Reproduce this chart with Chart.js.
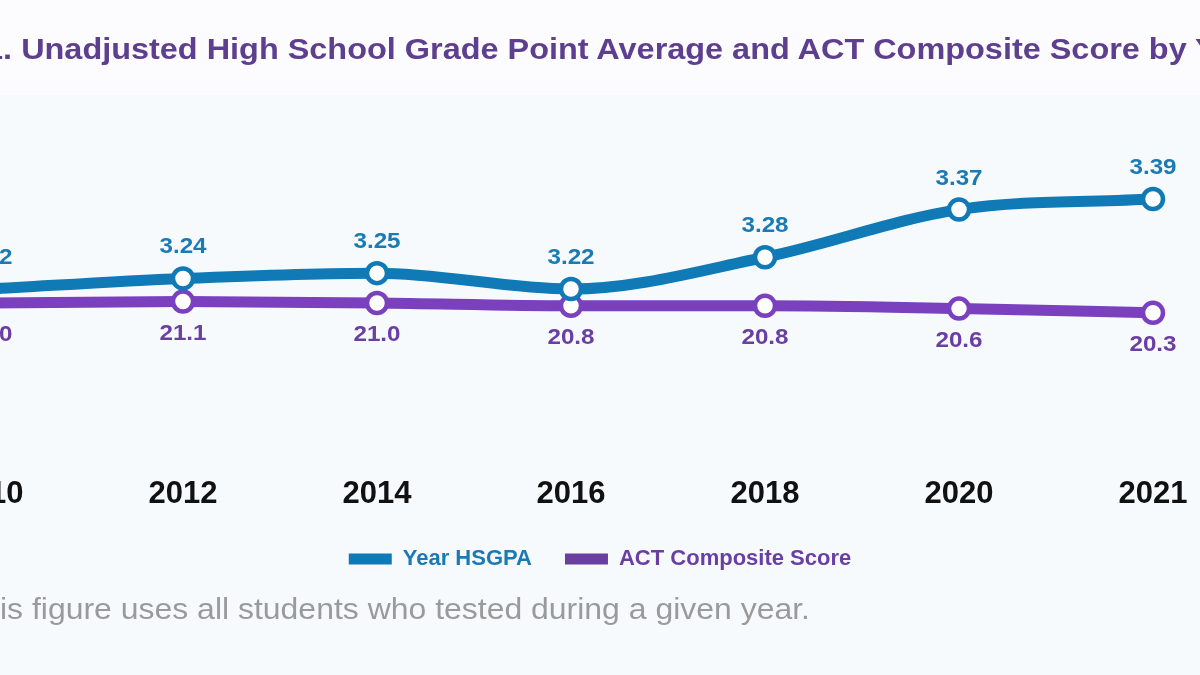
<!DOCTYPE html>
<html>
<head>
<meta charset="utf-8">
<script src="https://cdn.jsdelivr.net/npm/chart.js@4/dist/chart.umd.min.js"></script>
<style>
  html, body { margin:0; padding:0; width:1200px; height:675px; overflow:hidden; background:#f7fafd; font-family:"Liberation Sans", Arial, sans-serif; }
  #wrap { position:relative; width:1200px; height:675px; overflow:hidden; }
  #topband { position:absolute; left:0; top:0; width:1200px; height:95px; background:#fcfcfe; }
  #chart { position:absolute; left:-111px; top:0; }
  .line { position:absolute; white-space:nowrap; line-height:normal; transform-origin:0 0; }
  #title { top:33px; color:#5e3f8f; font-weight:bold; font-size:29px; }
  #note { top:592px; color:#9a9a9a; font-size:30px; }
</style>
</head>
<body>
<div id="wrap">
  <div id="topband"></div>
  <canvas id="chart" width="1400" height="675"></canvas>
  <div id="title" class="line"><span class="pre">Figure 1</span><span class="rest">. Unadjusted High School Grade Point Average and ACT Composite Score by </span><span>Year</span></div>
  <div id="note" class="line"><span class="pre">Note. Th</span><span class="rest">is figure uses all students who tested during a given year.</span></div>
</div>
<script>
// ---- data ----
const years = ['2010', '2012', '2014', '2016', '2018', '2020', '2021'];
const hsgpa = [3.22, 3.24, 3.25, 3.22, 3.28, 3.37, 3.39];
const actComposite = [21.0, 21.1, 21.0, 20.8, 20.8, 20.6, 20.3];
const seriesNames = ['Year HSGPA', 'ACT Composite Score'];

const BLUE = '#0f7ab6';
const PURPLE = '#7a40bd';
const BLUE_TEXT = '#1a7ab3';
const PURPLE_TEXT = '#6a3fa3';

// squeeze/stretch header and footnote to the reference width
function fitLine(id, targetWidth, startX) {
  const el = document.getElementById(id);
  const preW = el.querySelector('.pre').getBoundingClientRect().width;
  const restW = el.querySelector('.rest').getBoundingClientRect().width;
  const s = targetWidth / restW;
  el.style.transform = 'scaleX(' + s + ')';
  el.style.left = (startX - preW * s) + 'px';
}
fitLine('title', 1192, 3);
fitLine('note', 810, 0);

const valueLabels = {
  id: 'valueLabels',
  afterDatasetsDraw(chart) {
    const ctx = chart.ctx;
    chart.data.datasets.forEach((ds, di) => {
      const meta = chart.getDatasetMeta(di);
      meta.data.forEach((pt, i) => {
        const txt = di === 0 ? ds.data[i].toFixed(2) : ds.data[i].toFixed(1);
        ctx.save();
        ctx.font = 'bold 22px "Liberation Sans", Arial, sans-serif';
        ctx.fillStyle = di === 0 ? BLUE_TEXT : PURPLE_TEXT;
        ctx.textAlign = 'center';
        ctx.textBaseline = 'middle';
        const y = di === 0 ? pt.y - 31 : pt.y + 32;
        ctx.translate(pt.x, y);
        ctx.scale(1.1, 1);
        ctx.fillText(txt, 0, 0);
        ctx.restore();
      });
    });
  }
};

new Chart(document.getElementById('chart'), {
  type: 'line',
  data: {
    labels: years,
    datasets: [
      {
        label: seriesNames[0],
        data: hsgpa,
        yAxisID: 'yGpa',
        borderColor: BLUE,
        backgroundColor: BLUE,
        borderWidth: 11,
        cubicInterpolationMode: 'monotone',
        pointRadius: 10,
        pointBorderWidth: 4.5,
        pointBackgroundColor: '#ffffff',
        pointBorderColor: BLUE,
        fill: false
      },
      {
        label: seriesNames[1],
        data: actComposite,
        yAxisID: 'yAct',
        borderColor: PURPLE,
        backgroundColor: PURPLE,
        borderWidth: 11,
        cubicInterpolationMode: 'monotone',
        pointRadius: 10,
        pointBorderWidth: 4.5,
        pointBackgroundColor: '#ffffff',
        pointBorderColor: PURPLE,
        fill: false
      }
    ]
  },
  options: {
    responsive: false,
    animation: false,
    devicePixelRatio: 1,
    clip: false,
    layout: { padding: { left: 100, right: 78, top: 100, bottom: 95 } },
    scales: {
      x: {
        offset: false,
        grid: { display: false, drawTicks: false },
        border: { display: false },
        ticks: {
          color: '#111111',
          padding: 2,
          maxRotation: 0,
          autoSkip: false,
          font: { family: '"Liberation Sans", Arial, sans-serif', size: 31, weight: 'bold' }
        }
      },
      yGpa: { display: false, position: 'left', min: 2.871, max: 3.577 },
      yAct: {
        display: true,
        position: 'right',
        min: 8.857,
        max: 35.429,
        grid: { display: false, drawTicks: false },
        border: { display: false },
        ticks: { color: 'rgba(0,0,0,0)' },
        afterFit(scale) { scale.width = 58; }
      }
    },
    plugins: {
      title: { display: false },
      tooltip: { enabled: false },
      legend: {
        position: 'bottom',
        labels: {
          boxWidth: 43,
          boxHeight: 11,
          padding: 33,
          font: { family: '"Liberation Sans", Arial, sans-serif', size: 22, weight: 'bold' },
          generateLabels(chart) {
            return chart.data.datasets.map((ds, i) => ({
              text: ds.label,
              fillStyle: i === 0 ? BLUE : '#6b3fa0',
              strokeStyle: 'rgba(0,0,0,0)',
              lineWidth: 0,
              fontColor: i === 0 ? BLUE_TEXT : PURPLE_TEXT,
              datasetIndex: i,
              hidden: false
            }));
          }
        }
      }
    }
  },
  plugins: [valueLabels]
});
</script>
</body>
</html>
